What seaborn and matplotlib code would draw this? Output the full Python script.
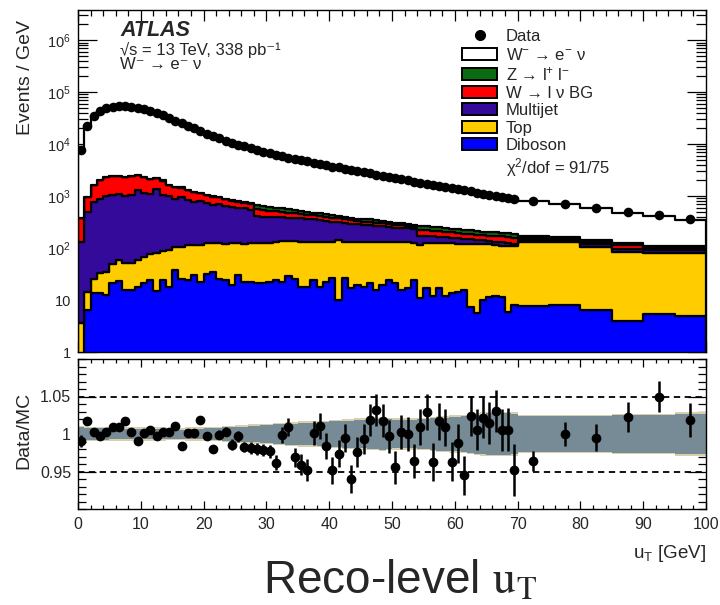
import numpy as np
import pandas as pd
import matplotlib
matplotlib.use("Agg")
import matplotlib.pyplot as plt
import seaborn as sns
from matplotlib.lines import Line2D
from matplotlib.patches import Patch
from matplotlib.ticker import FixedLocator, MultipleLocator, FuncFormatter, NullFormatter

# ---------------------------------------------------------------- binning
bin_edges = list(range(0, 71)) + [75, 80, 85, 90, 95, 100]

# ---------------------------------------------------------------- data (events / GeV)
data_yield = [
    7600, 22400, 34700, 43600, 49000, 52500, 53700, 53700, 52500, 50100,
    46800, 42700, 38900, 35500, 31600, 28200, 25100, 22400, 20000, 17800,
    15800, 14100, 12900, 11700, 10700, 9800, 9100, 8300, 7800, 7200,
    6800, 6300, 5900, 5500, 5200, 4900, 4700, 4400, 4200, 3900,
    3700, 3550, 3300, 3150, 3000, 2900, 2750, 2570, 2450, 2350,
    2240, 2090, 2000, 1900, 1780, 1700, 1620, 1550, 1480, 1410,
    1350, 1290, 1230, 1170, 1120, 1070, 1020, 980, 930, 890,
    790, 710, 590, 490, 430, 360,
]

# data / MC ratio and its uncertainty
data_over_mc = [
    0.991, 1.017, 1.003, 0.998, 1.003, 1.009, 1.010, 1.018, 1.003, 0.991,
    1.002, 1.006, 0.997, 1.003, 1.003, 1.011, 0.984, 1.002, 1.002, 1.019,
    0.997, 0.980, 0.999, 1.003, 0.986, 0.997, 0.983, 0.981, 0.980, 0.979,
    0.977, 0.962, 0.999, 1.009, 0.969, 0.959, 0.952, 1.001, 1.011, 0.984,
    0.952, 0.974, 0.995, 0.940, 0.976, 0.994, 1.019, 1.032, 1.018, 0.997,
    0.956, 1.003, 1.000, 0.964, 1.009, 1.029, 0.963, 1.017, 1.009, 0.963,
    0.988, 0.945, 1.024, 1.006, 1.022, 1.015, 1.031, 1.006, 1.006, 0.952,
    0.964, 1.000, 0.995, 1.023, 1.050, 1.019,
]
ratio_err = [
    0.008, 0.004, 0.003, 0.003, 0.003, 0.003, 0.003, 0.003, 0.003, 0.003,
    0.003, 0.003, 0.004, 0.004, 0.004, 0.004, 0.004, 0.004, 0.004, 0.005,
    0.005, 0.005, 0.006, 0.006, 0.007, 0.007, 0.007, 0.008, 0.008, 0.008,
    0.009, 0.010, 0.011, 0.012, 0.013, 0.014, 0.015, 0.016, 0.017, 0.017,
    0.018, 0.018, 0.019, 0.019, 0.020, 0.020, 0.021, 0.021, 0.022, 0.022,
    0.022, 0.023, 0.023, 0.023, 0.024, 0.024, 0.025, 0.025, 0.025, 0.026,
    0.026, 0.026, 0.027, 0.027, 0.027, 0.028, 0.028, 0.028, 0.029, 0.035,
    0.013, 0.016, 0.018, 0.020, 0.021, 0.023,
]
# relative MC uncertainty (half width of the band)
mc_unc = [
    0.009, 0.008, 0.008, 0.008, 0.008, 0.007, 0.007, 0.007, 0.007, 0.007,
    0.007, 0.007, 0.007, 0.007, 0.006, 0.006, 0.006, 0.007, 0.007, 0.007,
    0.008, 0.008, 0.008, 0.009, 0.009, 0.010, 0.010, 0.011, 0.011, 0.012,
    0.012, 0.013, 0.013, 0.014, 0.014, 0.015, 0.015, 0.015, 0.016, 0.016,
    0.017, 0.017, 0.018, 0.018, 0.019, 0.019, 0.020, 0.020, 0.021, 0.020,
    0.019, 0.019, 0.019, 0.019, 0.020, 0.020, 0.021, 0.022, 0.022, 0.023,
    0.023, 0.024, 0.025, 0.026, 0.027, 0.028, 0.028, 0.028, 0.028, 0.027,
    0.024, 0.024, 0.024, 0.025, 0.025, 0.027,
]

# ---------------------------------------------------------------- backgrounds (events / GeV)
diboson = [
    0.5, 6.4, 13.8, 13.5, 12.5, 21.5, 23.5, 15.6, 15.9, 18,
    21, 24, 15, 24, 18, 38, 25, 24, 30, 22,
    32, 35, 25, 24, 19.5, 30, 22, 22, 21, 21,
    22, 24, 22, 29, 25, 18, 18, 24, 18, 22.5,
    26, 10, 26, 16.7, 19.5, 18, 21, 15.6, 19.5, 24,
    21, 15.6, 16.7, 24, 10.8, 16.7, 12, 16.7, 12, 13.9,
    14.5, 15.6, 7.4, 5.6, 10, 11.3, 12, 11.6, 5.9, 8,
    7.6, 7.9, 6.4, 4.0, 5.5, 4.9,
]
top = [
    3.1, 8.0, 11.2, 19.5, 22.5, 27.5, 36.5, 35.4, 36.1, 41,
    47, 52, 64, 65, 73, 68, 79, 90, 84, 92,
    91, 88, 98, 96, 103.5, 96, 98, 101, 102, 105,
    104, 108, 116, 109, 110, 114, 112, 106, 112, 107.5,
    104, 130, 106, 113.3, 110.5, 112, 107, 114.4, 108.5, 106,
    107, 112.4, 111.3, 102, 103.2, 109.3, 114, 109.3, 112, 110.1,
    107.5, 104.4, 112.6, 112.4, 110, 106.7, 100, 98.4, 104.1, 102,
    124.4, 124.1, 100.6, 81, 76.5, 74.1,
]
multijet = [
    128, 486, 745, 857, 965, 1001, 1040, 949, 998, 1251,
    1062, 1024, 1271, 961, 909, 784, 836, 716, 656, 696,
    597, 547, 577, 520, 497, 474, 460, 427, 287, 274,
    274, 258, 262, 237, 240, 243, 225, 230, 210, 200,
    190, 175, 168, 160, 155, 146, 148, 140, 134, 120,
    117, 112, 110, 106, 56, 42, 42, 39, 36, 34,
    33, 30, 28, 22, 20, 17, 20, 20, 14, 12,
    13, 12, 11, 11, 10, 11,
]
w_lnu_bg = [
    239, 477, 854, 1162, 1291, 1359, 1308, 1348, 1357, 1206,
    1155, 985, 834, 933, 612, 612, 521, 460, 419, 329,
    308, 307, 257, 226, 185, 185, 164, 143, 145, 135,
    120, 115, 100, 105, 95, 80, 80, 65, 70, 65,
    60, 57, 55, 52, 47, 46, 43, 38, 37, 38,
    36, 33, 28, 26, 55, 52, 49, 47, 45, 42,
    40, 40, 39, 40, 37, 37, 37, 37, 37, 35,
    14, 12, 13, 17, 10, 11,
]
z_ll = [
    1, 3, 6, 8, 9, 11, 12, 12, 13, 14,
    15, 15, 16, 17, 18, 18, 19, 20, 21, 21,
    22, 23, 23, 24, 25, 25, 26, 27, 115, 105,
    100, 95, 80, 90, 80, 65, 65, 55, 60, 55,
    50, 48, 45, 43, 38, 38, 36, 32, 31, 32,
    29, 27, 24, 22, 45, 42, 40, 38, 37, 35,
    33, 32, 31, 32, 30, 31, 31, 30, 31, 29,
    11, 9, 11, 13, 8, 9,
]

# ---------------------------------------------------------------- derived quantities
edges = np.array(bin_edges, dtype=float)
centers = 0.5 * (edges[:-1] + edges[1:])
bkg_total = (np.array(diboson) + np.array(top) + np.array(multijet)
             + np.array(w_lnu_bg) + np.array(z_ll))
# the signal prediction completes the MC total implied by data / (data/MC)
signal = np.array(data_yield) / np.array(data_over_mc) - bkg_total

process_order = ["signal", "zll", "wbg", "multijet", "top", "diboson"]
process_values = {
    "signal": signal, "zll": z_ll, "wbg": w_lnu_bg,
    "multijet": multijet, "top": top, "diboson": diboson,
}
process_colors = {
    "signal": "#ffffff", "zll": "#0b6b12", "wbg": "#ff0000",
    "multijet": "#330a99", "top": "#ffcc00", "diboson": "#0000ff",
}
process_labels = {
    "signal": "W$^{-}$ → e$^{-}$ ν",
    "zll": "Z → l$^{+}$ l$^{-}$",
    "wbg": "W → l ν BG",
    "multijet": "Multijet",
    "top": "Top",
    "diboson": "Diboson",
}

frames = []
for name in process_order:
    frames.append(pd.DataFrame({"u_T": centers,
                                "events": np.asarray(process_values[name], dtype=float),
                                "process": name}))
mc = pd.concat(frames, ignore_index=True)

# ---------------------------------------------------------------- style
sns.set_style("ticks")
plt.rcParams["font.family"] = ["Liberation Sans", "DejaVu Sans"]
plt.rcParams["mathtext.fontset"] = "custom"
plt.rcParams["mathtext.rm"] = "Liberation Sans"
plt.rcParams["mathtext.it"] = "Liberation Sans:italic"
plt.rcParams["mathtext.bf"] = "Liberation Sans:bold"
plt.rcParams["mathtext.sf"] = "Liberation Sans"

W, H = 720, 605
fig = plt.figure(figsize=(W / 100, H / 100), dpi=100)
fig.patch.set_facecolor("white")
ax_top = fig.add_axes([78 / W, 1 - 352 / H, 628 / W, 342 / H])
ax_bot = fig.add_axes([78 / W, 1 - 509 / H, 628 / W, 150 / H])

# ---------------------------------------------------------------- upper panel: stacked MC + data
sns.histplot(data=mc, x="u_T", weights="events", hue="process",
             hue_order=process_order, palette=process_colors,
             bins=bin_edges, multiple="stack", element="step", fill=True,
             alpha=1, edgecolor="black", linewidth=1.6, legend=False, ax=ax_top)
sns.scatterplot(x=centers, y=data_yield, color="black", s=48, linewidth=0,
                zorder=5, legend=False, ax=ax_top)

ax_top.set_yscale("log")
ax_top.set_xlim(0, 100)
ax_top.set_ylim(1, 3.8e6)
ax_top.set_xlabel("")
ax_top.set_ylabel("")

def decade_label(v, pos):
    if np.isclose(v, 1):
        return "1"
    if np.isclose(v, 10):
        return "10"
    return r"$10^{%d}$" % int(round(np.log10(v)))

ax_top.yaxis.set_major_locator(FixedLocator([1, 10, 1e2, 1e3, 1e4, 1e5, 1e6]))
ax_top.yaxis.set_major_formatter(FuncFormatter(decade_label))
ax_top.yaxis.set_minor_locator(matplotlib.ticker.LogLocator(base=10, subs=np.arange(2, 10), numticks=20))
ax_top.yaxis.set_minor_formatter(NullFormatter())
ax_top.xaxis.set_major_locator(MultipleLocator(10))
ax_top.xaxis.set_minor_locator(MultipleLocator(2))
ax_top.tick_params(axis="x", which="both", labelbottom=False)
ax_top.tick_params(which="both", direction="in", top=True, right=True, width=0.9, color="black")
ax_top.tick_params(axis="y", which="major", length=14, labelsize=10.5, pad=5)
ax_top.tick_params(axis="y", which="minor", length=7)
ax_top.tick_params(axis="x", which="major", length=8)
ax_top.tick_params(axis="x", which="minor", length=4)

# ---------------------------------------------------------------- labels
def axes_y(py):
    return (352 - py) / 342

ax_top.text(0.067, axes_y(35.5), "ATLAS", transform=ax_top.transAxes, fontsize=15.5,
            fontweight="bold", fontstyle="italic", va="baseline", ha="left")
ax_top.text(0.067, axes_y(41.5), "√s = 13 TeV, 338 pb⁻¹\nW⁻ → e⁻ ν", transform=ax_top.transAxes,
            fontsize=12, va="top", ha="left", linespacing=0.95)

handles = [Line2D([], [], marker="o", color="black", linestyle="none", markersize=7)]
labels = ["Data"]
for name in process_order:
    handles.append(Patch(facecolor=process_colors[name], edgecolor="black", linewidth=1.4))
    labels.append(process_labels[name])
handles.append(Patch(facecolor="none", edgecolor="none"))
labels.append("χ$^{2}$/dof = 91/75")
ax_top.legend(handles, labels, loc="upper left", bbox_to_anchor=(0.612, 0.944),
              frameon=False, fontsize=12, handlelength=2.1, handleheight=0.7,
              handletextpad=0.5, labelspacing=0.15, borderpad=0, borderaxespad=0)

# ---------------------------------------------------------------- lower panel: ratio
unc = np.append(mc_unc, mc_unc[-1])
ax_bot.fill_between(edges, 1 - unc - 0.0018, 1 + unc + 0.0018, step="post",
                    color="#d8d0ac", linewidth=0, zorder=1)
ax_bot.fill_between(edges, 1 - unc, 1 + unc, step="post",
                    color="#778b96", linewidth=0, zorder=2)
for level in (0.95, 1.05):
    ax_bot.axhline(level, color="black", linestyle=(0, (3.5, 2.5)), linewidth=1.3, zorder=3)
ax_bot.errorbar(centers, data_over_mc, yerr=ratio_err, fmt="o", color="black",
                markersize=6, elinewidth=1.8, capsize=0, zorder=5)

ax_bot.set_xlim(0, 100)
ax_bot.set_ylim(0.9, 1.1)
ax_bot.yaxis.set_major_locator(FixedLocator([0.95, 1.0, 1.05]))
ax_bot.yaxis.set_major_formatter(FuncFormatter(lambda v, p: "%g" % round(v, 2)))
ax_bot.yaxis.set_minor_locator(MultipleLocator(0.01))
ax_bot.xaxis.set_major_locator(MultipleLocator(10))
ax_bot.xaxis.set_minor_locator(MultipleLocator(2))
ax_bot.tick_params(which="both", direction="in", top=True, right=True, width=0.9,
                   color="black", labelsize=11.5)
ax_bot.tick_params(axis="y", which="major", length=13, pad=5)
ax_bot.tick_params(axis="y", which="minor", length=6)
ax_bot.tick_params(axis="x", which="major", length=6, pad=6)
ax_bot.tick_params(axis="x", which="minor", length=3)

for ax in (ax_top, ax_bot):
    for s in ax.spines.values():
        s.set_linewidth(1.0)
        s.set_color("black")

fig.text(26 / W, 1 - 20 / H, "Events / GeV", rotation=90, ha="center", va="top", fontsize=14)
fig.text(24 / W, 1 - 430 / H, "Data/MC", rotation=90, ha="center", va="center", fontsize=14)
fig.text(706 / W, 1 - 558 / H, r"u$_\mathrm{T}$ [GeV]", ha="right", va="baseline", fontsize=13.5)
fig.text(400 / W, 1 - 594 / H, r"Reco-level $\mathrm{u_T}$", ha="center", va="baseline",
         fontsize=33, math_fontfamily="stix")

fig.savefig("out.png", dpi=100)
